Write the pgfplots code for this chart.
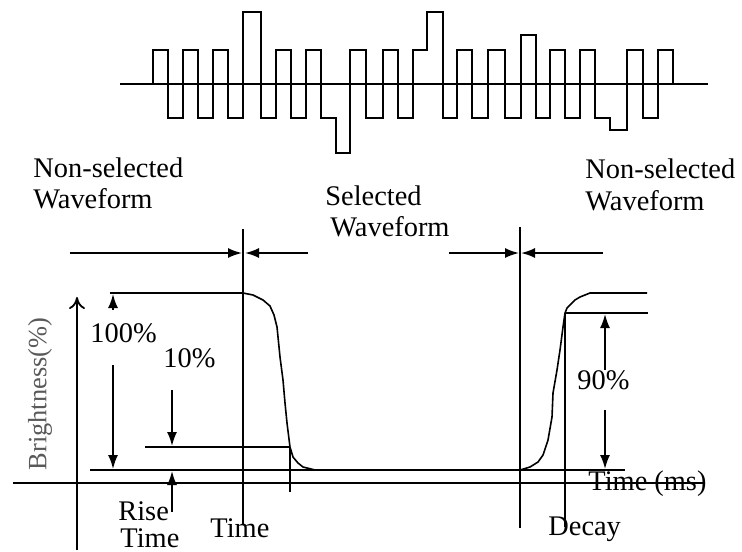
\documentclass[border=0pt]{standalone}
\usepackage{pgfplots}
\pgfplotsset{compat=1.18}
\usepackage{fontspec}
\setmainfont{Liberation Serif}
\usetikzlibrary{arrows.meta}
\tikzset{
  lbl/.style={font=\fontsize{14.2}{16}\selectfont, inner sep=0pt, anchor=base west},
  arr/.style={black, line width=0.9pt, -{Latex[length=7pt,width=5pt]}},
  ln/.style={black, line width=0.9pt},
}
\begin{document}
\begin{tikzpicture}
\begin{axis}[
  width=371pt, height=275.5pt, scale only axis,
  xmin=0, xmax=742, ymin=0, ymax=551, y dir=reverse,
  hide axis, clip=false,
]
% frame of the picture (not drawn)
\addplot[draw=none] coordinates {(0,0) (742,551)};

% selected / non-selected drive waveform
\addplot[ln, line width=0.8pt] coordinates {(120,84) (708,84)};
\addplot[ln, const plot, line width=0.8pt] coordinates {
  (140,84) (153,50) (168,118) (183,50) (198,118) (213,50) (228,118)
  (243,12) (261,118) (276,50) (291,118) (306,50) (321,118) (336,153)
  (350,50) (366,118) (383,50) (398,118) (413,50) (427,12) (443,118)
  (457,50) (472,118) (488,50) (505,118) (521,35) (536,118) (550,50)
  (565,118) (580,50) (595,118) (610,130) (627,50) (643,118) (658,50)
  (673,84) (690,84)};

% selected window markers
\addplot[arr] coordinates {(70,253) (242,253)};
\addplot[arr] coordinates {(308,253) (245,253)};
\addplot[arr] coordinates {(449,253) (519,253)};
\addplot[arr] coordinates {(603,253) (521,253)};
\addplot[ln] coordinates {(243,229) (243,525)};
\addplot[ln] coordinates {(520,227) (520,528)};

% axes
\addplot[ln] coordinates {(13,483) (703,483)};
\addplot[ln, -{To[length=6pt,width=8pt]}] coordinates {(77,550) (77,297)};

% brightness response
\addplot[ln, line width=0.8pt] coordinates {
  (110,293) (243,293) (253,295) (263,300) (270,306) (274,315) (277,327)
  (280,357) (283,380) (285,403) (287,423) (290,447) (293,457) (298,463)
  (303,467) (315,470)};
\addplot[ln] coordinates {(90,470) (625,470)};
\addplot[ln, line width=0.8pt] coordinates {
  (520,470) (530,467) (538,462) (543,455) (548,440) (552,417) (553,393)
  (557,370) (560,350) (563,327) (565,313) (567,308) (570,305) (575,300)
  (580,297) (590,293) (647,293)};
\addplot[ln] coordinates {(145,447) (290,447)};
\addplot[ln] coordinates {(565,313) (648,313)};
\addplot[ln] coordinates {(290,447) (290,492)};
\addplot[ln] coordinates {(565,313) (565,527)};

% dimension arrows
\addplot[arr] coordinates {(113,310) (113,294)};
\addplot[arr] coordinates {(113,365) (113,469)};
\addplot[arr] coordinates {(172,390) (172,446)};
\addplot[arr] coordinates {(172,512) (172,471)};
\addplot[arr] coordinates {(605,370) (605,314)};
\addplot[arr] coordinates {(605,410) (605,469)};

% labels
\node[lbl] at (axis cs:33,177) {Non-selected};
\node[lbl] at (axis cs:33,208) {Waveform};
\node[lbl] at (axis cs:325,205) {Selected};
\node[lbl] at (axis cs:330,236) {Waveform};
\node[lbl] at (axis cs:585,178) {Non-selected};
\node[lbl] at (axis cs:585,210) {Waveform};
\node[lbl] at (axis cs:90,342) {100\%};
\node[lbl] at (axis cs:163,367) {10\%};
\node[lbl] at (axis cs:577,389) {90\%};
\node[lbl] at (axis cs:118,520) {Rise};
\node[lbl] at (axis cs:120,547) {Time};
\node[lbl] at (axis cs:210,537) {Time};
\node[lbl] at (axis cs:548,535) {Decay};
\node[lbl] at (axis cs:588,490) {Time (ms)};
\node[font=\fontsize{13.2}{15}\selectfont, text=black!65, inner sep=0pt, rotate=90]
  at (axis cs:40,394) {Brightness(\%)};
\end{axis}
\end{tikzpicture}
\end{document}
